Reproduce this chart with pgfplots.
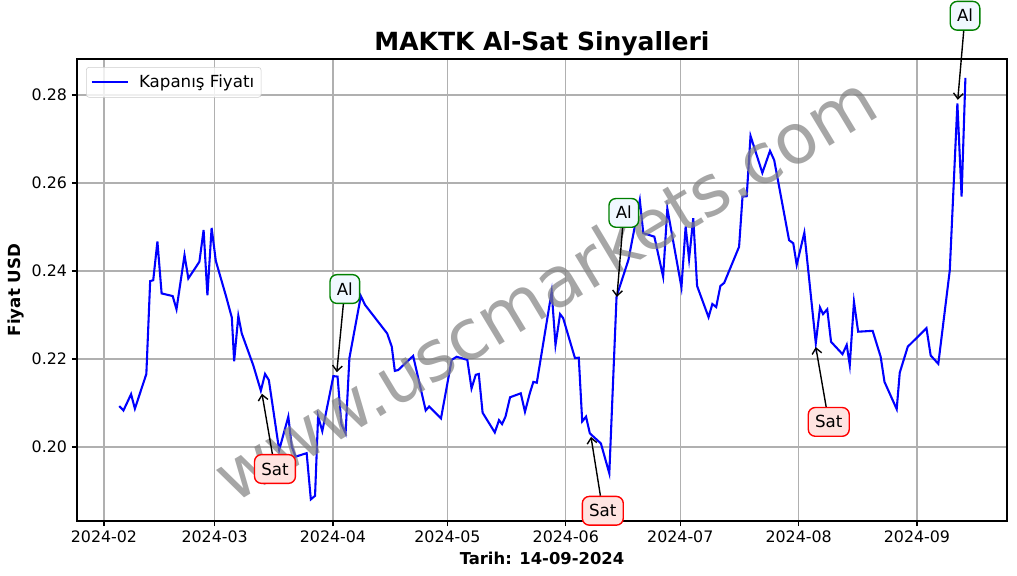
\documentclass[border=0pt]{standalone}
\usepackage{fontspec}
\setmainfont{DejaVu Sans}
\usepackage{pgfplots}
\pgfplotsset{compat=1.18}
\usetikzlibrary{arrows.meta}

\definecolor{gridgray}{HTML}{B0B0B0}
\definecolor{satfill}{HTML}{FFE4E1}
\definecolor{alfill}{HTML}{F0F8FF}
\definecolor{legedge}{HTML}{CCCCCC}

\pgfplotstableread{
day price
4.0 0.2093
5.1 0.2083
7.1 0.2120
8.1 0.2087
11.1 0.2166
12.1 0.2377
12.9 0.2379
14.0 0.2467
15.1 0.2349
18.0 0.2343
19.0 0.2313
21.1 0.2436
22.1 0.2383
25.0 0.2421
26.1 0.2493
27.1 0.2345
28.2 0.2498
29.3 0.2423
32.0 0.2342
33.5 0.2294
34.1 0.2195
35.2 0.2298
36.1 0.2258
39.1 0.2186
41.1 0.2128
42.2 0.2166
43.2 0.2152
45.9 0.1993
48.3 0.2069
49.2 0.2001
50.2 0.1978
53.1 0.1986
54.2 0.1881
55.3 0.1889
56.1 0.2070
57.2 0.2036
60.1 0.2161
61.2 0.2160
62.2 0.2052
63.3 0.2031
64.3 0.2202
67.3 0.2343
68.4 0.2323
74.2 0.2258
75.4 0.2228
76.2 0.2173
77.1 0.2175
81.0 0.2207
84.3 0.2083
85.2 0.2092
88.3 0.2065
91.1 0.2198
92.4 0.2205
95.2 0.2198
96.3 0.2133
97.4 0.2164
98.2 0.2166
99.2 0.2078
102.4 0.2033
103.5 0.2061
104.3 0.2052
105.2 0.2069
106.4 0.2113
109.2 0.2122
110.3 0.2080
111.6 0.2123
112.5 0.2148
113.4 0.2146
117.3 0.2353
118.3 0.2232
119.5 0.2302
120.3 0.2293
123.4 0.2202
124.4 0.2203
125.3 0.2058
126.3 0.2069
127.3 0.2031
130.2 0.2008
132.4 0.1940
134.3 0.2342
137.4 0.2425
140.4 0.2561
141.3 0.2486
144.2 0.2478
146.5 0.2387
147.6 0.2542
151.3 0.2363
152.4 0.2501
153.3 0.2427
154.4 0.2520
155.4 0.2366
158.4 0.2295
159.4 0.2325
160.4 0.2318
161.5 0.2366
162.5 0.2373
166.4 0.2455
167.3 0.2569
168.4 0.2570
169.4 0.2707
172.5 0.2623
174.5 0.2673
175.6 0.2652
179.5 0.2470
180.6 0.2463
181.5 0.2414
183.5 0.2487
186.5 0.2236
187.6 0.2317
188.4 0.2302
189.5 0.2313
190.5 0.2239
193.5 0.2211
194.6 0.2232
195.4 0.2186
196.5 0.2330
197.6 0.2262
201.4 0.2264
203.5 0.2205
204.5 0.2148
207.7 0.2086
208.5 0.2169
210.6 0.2228
215.5 0.2270
216.6 0.2208
218.6 0.2189
221.6 0.2401
223.6 0.2781
224.7 0.2569
225.7 0.2839
}\closing

\begin{document}
\begin{tikzpicture}[
  box/.style={rounded corners=5bp, line width=1bp, inner xsep=4.9bp, inner ysep=6bp,
    text height=8.7bp, text depth=0bp, font=\fontsize{12bp}{14bp}\selectfont},
  satbox/.style={box, draw=red, fill=satfill},
  albox/.style={box, draw=green!50!black, fill=alfill},
  arr/.style={-{Straight Barb[length=4bp,width=7bp]}, line width=1bp, black}
]
\useasboundingbox (0,0) rectangle (732.24bp,414.72bp);
\begin{axis}[
  at={(55.44bp,39.6bp)}, anchor=south west,
  scale only axis, width=669.6bp, height=332.64bp,
  xmin=-7.07, xmax=236.6, ymin=0.18318, ymax=0.28818,
  clip=false,
  xtick={0,29,60,90,121,151,182,213},
  xticklabels={2024-02,2024-03,2024-04,2024-05,2024-06,2024-07,2024-08,2024-09},
  ytick={0.20,0.22,0.24,0.26,0.28},
  yticklabel style={/pgf/number format/.cd, fixed, fixed zerofill, precision=2},
  /pgf/number format/assume math mode=true,
  ticklabel style={font=\fontsize{11.4bp}{13bp}\selectfont},
  xtick pos=left, ytick pos=left, tick align=outside,
  major tick length=3.7bp,
  tick style={black, line width=0.85bp},
  axis line style={black, line width=0.85bp},
  xmajorgrids, ymajorgrids,
  grid style={gridgray, line width=0.85bp},
  every axis title shift=0pt,
  title={MAKTK Al-Sat Sinyalleri},
  title style={font=\fontsize{18bp}{20bp}\selectfont\bfseries,
    at={(axis description cs:0.5,1.0173)}, anchor=base},
  xlabel={Tarih: 14-09-2024},
  xlabel style={font=\fontsize{11.8bp}{14bp}\selectfont\bfseries,
    at={(axis description cs:0.5,-0.0937)}, anchor=base},
  ylabel={Fiyat USD},
  ylabel style={font=\fontsize{12bp}{14bp}\selectfont\bfseries,
    at={(axis description cs:-0.0608,0.5)}, anchor=base, rotate=0},
  legend style={at={(0,1)}, anchor=north west, xshift=6.5bp, yshift=-5.8bp,
    draw=legedge, rounded corners=2bp, fill=white, fill opacity=0.8, text opacity=1,
    font=\fontsize{12bp}{14bp}\selectfont, inner xsep=3bp, inner ysep=3.5bp,
    column sep=5.5bp},
  legend cell align={left},
  legend image code/.code={\draw[#1] (0bp,0bp) -- (26bp,0bp);},
]
\addplot[blue, line width=1.5bp] table[x=day, y=price] {\closing};
\addlegendentry{Kapanış Fiyatı}

\node[rotate=31, text=gray, opacity=0.7, font=\fontsize{50bp}{60bp}\selectfont]
  at (axis cs:115.5,0.2362) {www.uscmarkets.com};

\node[satbox] (s1) at (axis cs:44.8,0.1950) {Sat};
\draw[arr] (s1) -- (axis cs:41.4,0.2121);
\node[albox] (a1) at (axis cs:63.1,0.2359) {Al};
\draw[arr] (a1) -- (axis cs:61.0,0.2170);
\node[satbox] (s2) at (axis cs:130.7,0.1855) {Sat};
\draw[arr] (s2) -- (axis cs:127.6,0.2023);
\node[albox] (a2) at (axis cs:136.2,0.2532) {Al};
\draw[arr] (a2) -- (axis cs:134.4,0.2341);
\node[satbox] (s3) at (axis cs:189.9,0.2057) {Sat};
\draw[arr] (s3) -- (axis cs:186.5,0.2227);
\node[albox] (a3) at (axis cs:225.6,0.2980) {Al};
\draw[arr] (a3) -- (axis cs:223.7,0.2789);
\end{axis}
\end{tikzpicture}
\end{document}
